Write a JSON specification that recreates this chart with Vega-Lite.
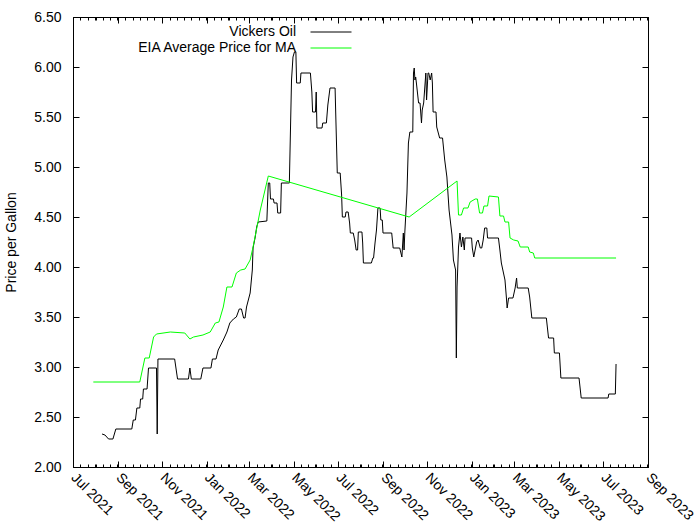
{
  "$schema": "https://vega.github.io/schema/vega-lite/v6.json",
  "autosize": {"type": "none"},
  "width": 575,
  "height": 450,
  "padding": {"left": 73, "top": 17, "right": 52, "bottom": 58},
  "background": "white",
  "config": {
    "font": "Liberation Sans",
    "view": {"stroke": null},
    "axis": {"grid": false, "labelFontSize": 14, "labelColor": "#000", "tickColor": "#000", "domainColor": "#000", "titleFontSize": 14, "titleFontWeight": "normal", "titleColor": "#000", "labelFont": "Liberation Sans", "titleFont": "Liberation Sans"},
    "legend": {"labelFont": "Liberation Sans", "orient": "none", "direction": "vertical", "title": null, "symbolType": "stroke", "symbolSize": 1681, "symbolStrokeWidth": 1, "labelAlign": "right", "labelOffset": -56, "labelFontSize": 14, "labelColor": "#000", "padding": 0}
  },
  "data": {"values": [
    {"series": "Vickers Oil", "date": "2021-08-10", "price": 2.33},
    {"series": "Vickers Oil", "date": "2021-08-14", "price": 2.32},
    {"series": "Vickers Oil", "date": "2021-08-19", "price": 2.28},
    {"series": "Vickers Oil", "date": "2021-08-25", "price": 2.28},
    {"series": "Vickers Oil", "date": "2021-08-29", "price": 2.38},
    {"series": "Vickers Oil", "date": "2021-09-20", "price": 2.38},
    {"series": "Vickers Oil", "date": "2021-09-22", "price": 2.47},
    {"series": "Vickers Oil", "date": "2021-09-25", "price": 2.47},
    {"series": "Vickers Oil", "date": "2021-09-27", "price": 2.59},
    {"series": "Vickers Oil", "date": "2021-10-01", "price": 2.59},
    {"series": "Vickers Oil", "date": "2021-10-02", "price": 2.68},
    {"series": "Vickers Oil", "date": "2021-10-05", "price": 2.68},
    {"series": "Vickers Oil", "date": "2021-10-06", "price": 2.78},
    {"series": "Vickers Oil", "date": "2021-10-11", "price": 2.78},
    {"series": "Vickers Oil", "date": "2021-10-13", "price": 2.99},
    {"series": "Vickers Oil", "date": "2021-10-24", "price": 2.99},
    {"series": "Vickers Oil", "date": "2021-10-25", "price": 2.33},
    {"series": "Vickers Oil", "date": "2021-10-26", "price": 3.08},
    {"series": "Vickers Oil", "date": "2021-11-18", "price": 3.08},
    {"series": "Vickers Oil", "date": "2021-11-22", "price": 2.88},
    {"series": "Vickers Oil", "date": "2021-12-07", "price": 2.88},
    {"series": "Vickers Oil", "date": "2021-12-09", "price": 2.99},
    {"series": "Vickers Oil", "date": "2021-12-11", "price": 2.88},
    {"series": "Vickers Oil", "date": "2021-12-24", "price": 2.88},
    {"series": "Vickers Oil", "date": "2021-12-27", "price": 2.99},
    {"series": "Vickers Oil", "date": "2022-01-07", "price": 2.99},
    {"series": "Vickers Oil", "date": "2022-01-09", "price": 3.08},
    {"series": "Vickers Oil", "date": "2022-01-14", "price": 3.08},
    {"series": "Vickers Oil", "date": "2022-01-17", "price": 3.17},
    {"series": "Vickers Oil", "date": "2022-01-24", "price": 3.27},
    {"series": "Vickers Oil", "date": "2022-01-29", "price": 3.35},
    {"series": "Vickers Oil", "date": "2022-02-02", "price": 3.44},
    {"series": "Vickers Oil", "date": "2022-02-07", "price": 3.48},
    {"series": "Vickers Oil", "date": "2022-02-11", "price": 3.50},
    {"series": "Vickers Oil", "date": "2022-02-15", "price": 3.58},
    {"series": "Vickers Oil", "date": "2022-02-18", "price": 3.58},
    {"series": "Vickers Oil", "date": "2022-02-21", "price": 3.49},
    {"series": "Vickers Oil", "date": "2022-02-23", "price": 3.49},
    {"series": "Vickers Oil", "date": "2022-02-25", "price": 3.60},
    {"series": "Vickers Oil", "date": "2022-03-02", "price": 3.74},
    {"series": "Vickers Oil", "date": "2022-03-05", "price": 3.97},
    {"series": "Vickers Oil", "date": "2022-03-06", "price": 4.19},
    {"series": "Vickers Oil", "date": "2022-03-09", "price": 4.30},
    {"series": "Vickers Oil", "date": "2022-03-11", "price": 4.40},
    {"series": "Vickers Oil", "date": "2022-03-13", "price": 4.45},
    {"series": "Vickers Oil", "date": "2022-03-25", "price": 4.46},
    {"series": "Vickers Oil", "date": "2022-03-27", "price": 4.84},
    {"series": "Vickers Oil", "date": "2022-03-29", "price": 4.84},
    {"series": "Vickers Oil", "date": "2022-03-30", "price": 4.68},
    {"series": "Vickers Oil", "date": "2022-04-03", "price": 4.68},
    {"series": "Vickers Oil", "date": "2022-04-04", "price": 4.64},
    {"series": "Vickers Oil", "date": "2022-04-08", "price": 4.64},
    {"series": "Vickers Oil", "date": "2022-04-09", "price": 4.54},
    {"series": "Vickers Oil", "date": "2022-04-13", "price": 4.54},
    {"series": "Vickers Oil", "date": "2022-04-14", "price": 4.84},
    {"series": "Vickers Oil", "date": "2022-04-25", "price": 4.84},
    {"series": "Vickers Oil", "date": "2022-04-28", "price": 5.87},
    {"series": "Vickers Oil", "date": "2022-04-30", "price": 6.10},
    {"series": "Vickers Oil", "date": "2022-05-02", "price": 6.15},
    {"series": "Vickers Oil", "date": "2022-05-04", "price": 6.15},
    {"series": "Vickers Oil", "date": "2022-05-05", "price": 5.84},
    {"series": "Vickers Oil", "date": "2022-05-10", "price": 5.84},
    {"series": "Vickers Oil", "date": "2022-05-11", "price": 5.94},
    {"series": "Vickers Oil", "date": "2022-05-24", "price": 5.94},
    {"series": "Vickers Oil", "date": "2022-05-26", "price": 5.75},
    {"series": "Vickers Oil", "date": "2022-05-27", "price": 5.55},
    {"series": "Vickers Oil", "date": "2022-05-31", "price": 5.55},
    {"series": "Vickers Oil", "date": "2022-06-01", "price": 5.75},
    {"series": "Vickers Oil", "date": "2022-06-02", "price": 5.39},
    {"series": "Vickers Oil", "date": "2022-06-09", "price": 5.39},
    {"series": "Vickers Oil", "date": "2022-06-10", "price": 5.44},
    {"series": "Vickers Oil", "date": "2022-06-15", "price": 5.44},
    {"series": "Vickers Oil", "date": "2022-06-17", "price": 5.62},
    {"series": "Vickers Oil", "date": "2022-06-20", "price": 5.79},
    {"series": "Vickers Oil", "date": "2022-06-27", "price": 5.79},
    {"series": "Vickers Oil", "date": "2022-06-28", "price": 5.50},
    {"series": "Vickers Oil", "date": "2022-06-30", "price": 4.94},
    {"series": "Vickers Oil", "date": "2022-07-04", "price": 4.94},
    {"series": "Vickers Oil", "date": "2022-07-06", "price": 4.72},
    {"series": "Vickers Oil", "date": "2022-07-07", "price": 4.50},
    {"series": "Vickers Oil", "date": "2022-07-11", "price": 4.50},
    {"series": "Vickers Oil", "date": "2022-07-12", "price": 4.55},
    {"series": "Vickers Oil", "date": "2022-07-15", "price": 4.55},
    {"series": "Vickers Oil", "date": "2022-07-17", "price": 4.44},
    {"series": "Vickers Oil", "date": "2022-07-18", "price": 4.34},
    {"series": "Vickers Oil", "date": "2022-07-22", "price": 4.34},
    {"series": "Vickers Oil", "date": "2022-07-24", "price": 4.27},
    {"series": "Vickers Oil", "date": "2022-07-26", "price": 4.17},
    {"series": "Vickers Oil", "date": "2022-07-28", "price": 4.17},
    {"series": "Vickers Oil", "date": "2022-07-29", "price": 4.35},
    {"series": "Vickers Oil", "date": "2022-08-03", "price": 4.35},
    {"series": "Vickers Oil", "date": "2022-08-04", "price": 4.24},
    {"series": "Vickers Oil", "date": "2022-08-05", "price": 4.04},
    {"series": "Vickers Oil", "date": "2022-08-16", "price": 4.04},
    {"series": "Vickers Oil", "date": "2022-08-18", "price": 4.09},
    {"series": "Vickers Oil", "date": "2022-08-19", "price": 4.09},
    {"series": "Vickers Oil", "date": "2022-08-21", "price": 4.24},
    {"series": "Vickers Oil", "date": "2022-08-23", "price": 4.37},
    {"series": "Vickers Oil", "date": "2022-08-25", "price": 4.59},
    {"series": "Vickers Oil", "date": "2022-08-28", "price": 4.59},
    {"series": "Vickers Oil", "date": "2022-08-29", "price": 4.47},
    {"series": "Vickers Oil", "date": "2022-08-31", "price": 4.47},
    {"series": "Vickers Oil", "date": "2022-09-01", "price": 4.34},
    {"series": "Vickers Oil", "date": "2022-09-13", "price": 4.34},
    {"series": "Vickers Oil", "date": "2022-09-15", "price": 4.19},
    {"series": "Vickers Oil", "date": "2022-09-24", "price": 4.19},
    {"series": "Vickers Oil", "date": "2022-09-27", "price": 4.10},
    {"series": "Vickers Oil", "date": "2022-09-29", "price": 4.34},
    {"series": "Vickers Oil", "date": "2022-09-30", "price": 4.17},
    {"series": "Vickers Oil", "date": "2022-10-01", "price": 4.34},
    {"series": "Vickers Oil", "date": "2022-10-04", "price": 4.74},
    {"series": "Vickers Oil", "date": "2022-10-06", "price": 5.24},
    {"series": "Vickers Oil", "date": "2022-10-08", "price": 5.35},
    {"series": "Vickers Oil", "date": "2022-10-12", "price": 5.35},
    {"series": "Vickers Oil", "date": "2022-10-13", "price": 5.94},
    {"series": "Vickers Oil", "date": "2022-10-14", "price": 5.99},
    {"series": "Vickers Oil", "date": "2022-10-15", "price": 5.87},
    {"series": "Vickers Oil", "date": "2022-10-16", "price": 5.90},
    {"series": "Vickers Oil", "date": "2022-10-17", "price": 5.84},
    {"series": "Vickers Oil", "date": "2022-10-20", "price": 5.64},
    {"series": "Vickers Oil", "date": "2022-10-22", "price": 5.64},
    {"series": "Vickers Oil", "date": "2022-10-24", "price": 5.44},
    {"series": "Vickers Oil", "date": "2022-10-25", "price": 5.57},
    {"series": "Vickers Oil", "date": "2022-10-27", "price": 5.64},
    {"series": "Vickers Oil", "date": "2022-10-30", "price": 5.94},
    {"series": "Vickers Oil", "date": "2022-10-31", "price": 5.67},
    {"series": "Vickers Oil", "date": "2022-11-02", "price": 5.94},
    {"series": "Vickers Oil", "date": "2022-11-03", "price": 5.94},
    {"series": "Vickers Oil", "date": "2022-11-05", "price": 5.87},
    {"series": "Vickers Oil", "date": "2022-11-07", "price": 5.94},
    {"series": "Vickers Oil", "date": "2022-11-08", "price": 5.84},
    {"series": "Vickers Oil", "date": "2022-11-09", "price": 5.55},
    {"series": "Vickers Oil", "date": "2022-11-13", "price": 5.55},
    {"series": "Vickers Oil", "date": "2022-11-14", "price": 5.40},
    {"series": "Vickers Oil", "date": "2022-11-18", "price": 5.29},
    {"series": "Vickers Oil", "date": "2022-11-22", "price": 5.29},
    {"series": "Vickers Oil", "date": "2022-11-25", "price": 5.07},
    {"series": "Vickers Oil", "date": "2022-11-28", "price": 4.90},
    {"series": "Vickers Oil", "date": "2022-12-01", "price": 4.57},
    {"series": "Vickers Oil", "date": "2022-12-05", "price": 4.32},
    {"series": "Vickers Oil", "date": "2022-12-07", "price": 4.07},
    {"series": "Vickers Oil", "date": "2022-12-10", "price": 3.97},
    {"series": "Vickers Oil", "date": "2022-12-11", "price": 3.09},
    {"series": "Vickers Oil", "date": "2022-12-12", "price": 3.80},
    {"series": "Vickers Oil", "date": "2022-12-14", "price": 4.20},
    {"series": "Vickers Oil", "date": "2022-12-16", "price": 4.34},
    {"series": "Vickers Oil", "date": "2022-12-18", "price": 4.20},
    {"series": "Vickers Oil", "date": "2022-12-20", "price": 4.30},
    {"series": "Vickers Oil", "date": "2022-12-22", "price": 4.17},
    {"series": "Vickers Oil", "date": "2022-12-23", "price": 4.29},
    {"series": "Vickers Oil", "date": "2023-01-01", "price": 4.29},
    {"series": "Vickers Oil", "date": "2023-01-02", "price": 4.19},
    {"series": "Vickers Oil", "date": "2023-01-04", "price": 4.10},
    {"series": "Vickers Oil", "date": "2023-01-08", "price": 4.25},
    {"series": "Vickers Oil", "date": "2023-01-10", "price": 4.27},
    {"series": "Vickers Oil", "date": "2023-01-13", "price": 4.19},
    {"series": "Vickers Oil", "date": "2023-01-15", "price": 4.19},
    {"series": "Vickers Oil", "date": "2023-01-17", "price": 4.27},
    {"series": "Vickers Oil", "date": "2023-01-19", "price": 4.39},
    {"series": "Vickers Oil", "date": "2023-01-22", "price": 4.39},
    {"series": "Vickers Oil", "date": "2023-01-23", "price": 4.29},
    {"series": "Vickers Oil", "date": "2023-02-07", "price": 4.29},
    {"series": "Vickers Oil", "date": "2023-02-09", "price": 4.17},
    {"series": "Vickers Oil", "date": "2023-02-11", "price": 4.04},
    {"series": "Vickers Oil", "date": "2023-02-16", "price": 3.87},
    {"series": "Vickers Oil", "date": "2023-02-18", "price": 3.69},
    {"series": "Vickers Oil", "date": "2023-02-19", "price": 3.59},
    {"series": "Vickers Oil", "date": "2023-02-21", "price": 3.69},
    {"series": "Vickers Oil", "date": "2023-02-27", "price": 3.69},
    {"series": "Vickers Oil", "date": "2023-03-02", "price": 3.79},
    {"series": "Vickers Oil", "date": "2023-03-04", "price": 3.89},
    {"series": "Vickers Oil", "date": "2023-03-05", "price": 3.79},
    {"series": "Vickers Oil", "date": "2023-03-20", "price": 3.79},
    {"series": "Vickers Oil", "date": "2023-03-22", "price": 3.70},
    {"series": "Vickers Oil", "date": "2023-03-25", "price": 3.49},
    {"series": "Vickers Oil", "date": "2023-04-14", "price": 3.49},
    {"series": "Vickers Oil", "date": "2023-04-17", "price": 3.29},
    {"series": "Vickers Oil", "date": "2023-04-24", "price": 3.29},
    {"series": "Vickers Oil", "date": "2023-04-25", "price": 3.14},
    {"series": "Vickers Oil", "date": "2023-05-02", "price": 3.14},
    {"series": "Vickers Oil", "date": "2023-05-04", "price": 2.89},
    {"series": "Vickers Oil", "date": "2023-05-29", "price": 2.89},
    {"series": "Vickers Oil", "date": "2023-06-01", "price": 2.69},
    {"series": "Vickers Oil", "date": "2023-07-08", "price": 2.69},
    {"series": "Vickers Oil", "date": "2023-07-09", "price": 2.73},
    {"series": "Vickers Oil", "date": "2023-07-18", "price": 2.73},
    {"series": "Vickers Oil", "date": "2023-07-19", "price": 3.03},
    {"series": "EIA Average Price for MA", "date": "2021-07-29", "price": 2.85},
    {"series": "EIA Average Price for MA", "date": "2021-10-01", "price": 2.85},
    {"series": "EIA Average Price for MA", "date": "2021-10-08", "price": 3.09},
    {"series": "EIA Average Price for MA", "date": "2021-10-14", "price": 3.09},
    {"series": "EIA Average Price for MA", "date": "2021-10-20", "price": 3.30},
    {"series": "EIA Average Price for MA", "date": "2021-10-24", "price": 3.33},
    {"series": "EIA Average Price for MA", "date": "2021-11-12", "price": 3.35},
    {"series": "EIA Average Price for MA", "date": "2021-12-02", "price": 3.34},
    {"series": "EIA Average Price for MA", "date": "2021-12-09", "price": 3.28},
    {"series": "EIA Average Price for MA", "date": "2021-12-14", "price": 3.30},
    {"series": "EIA Average Price for MA", "date": "2021-12-27", "price": 3.32},
    {"series": "EIA Average Price for MA", "date": "2022-01-06", "price": 3.35},
    {"series": "EIA Average Price for MA", "date": "2022-01-13", "price": 3.44},
    {"series": "EIA Average Price for MA", "date": "2022-01-18", "price": 3.45},
    {"series": "EIA Average Price for MA", "date": "2022-01-24", "price": 3.60},
    {"series": "EIA Average Price for MA", "date": "2022-01-29", "price": 3.80},
    {"series": "EIA Average Price for MA", "date": "2022-02-05", "price": 3.80},
    {"series": "EIA Average Price for MA", "date": "2022-02-11", "price": 3.94},
    {"series": "EIA Average Price for MA", "date": "2022-02-17", "price": 3.97},
    {"series": "EIA Average Price for MA", "date": "2022-02-23", "price": 3.98},
    {"series": "EIA Average Price for MA", "date": "2022-03-02", "price": 4.07},
    {"series": "EIA Average Price for MA", "date": "2022-03-06", "price": 4.20},
    {"series": "EIA Average Price for MA", "date": "2022-03-16", "price": 4.57},
    {"series": "EIA Average Price for MA", "date": "2022-03-27", "price": 4.91},
    {"series": "EIA Average Price for MA", "date": "2022-10-07", "price": 4.50},
    {"series": "EIA Average Price for MA", "date": "2022-12-12", "price": 4.86},
    {"series": "EIA Average Price for MA", "date": "2022-12-14", "price": 4.52},
    {"series": "EIA Average Price for MA", "date": "2022-12-18", "price": 4.52},
    {"series": "EIA Average Price for MA", "date": "2022-12-21", "price": 4.59},
    {"series": "EIA Average Price for MA", "date": "2022-12-27", "price": 4.59},
    {"series": "EIA Average Price for MA", "date": "2022-12-30", "price": 4.65},
    {"series": "EIA Average Price for MA", "date": "2023-01-06", "price": 4.68},
    {"series": "EIA Average Price for MA", "date": "2023-01-09", "price": 4.68},
    {"series": "EIA Average Price for MA", "date": "2023-01-12", "price": 4.54},
    {"series": "EIA Average Price for MA", "date": "2023-01-16", "price": 4.54},
    {"series": "EIA Average Price for MA", "date": "2023-01-18", "price": 4.61},
    {"series": "EIA Average Price for MA", "date": "2023-01-23", "price": 4.61},
    {"series": "EIA Average Price for MA", "date": "2023-01-25", "price": 4.71},
    {"series": "EIA Average Price for MA", "date": "2023-02-07", "price": 4.70},
    {"series": "EIA Average Price for MA", "date": "2023-02-09", "price": 4.51},
    {"series": "EIA Average Price for MA", "date": "2023-02-14", "price": 4.51},
    {"series": "EIA Average Price for MA", "date": "2023-02-16", "price": 4.45},
    {"series": "EIA Average Price for MA", "date": "2023-02-21", "price": 4.45},
    {"series": "EIA Average Price for MA", "date": "2023-02-23", "price": 4.29},
    {"series": "EIA Average Price for MA", "date": "2023-02-28", "price": 4.27},
    {"series": "EIA Average Price for MA", "date": "2023-03-06", "price": 4.26},
    {"series": "EIA Average Price for MA", "date": "2023-03-09", "price": 4.20},
    {"series": "EIA Average Price for MA", "date": "2023-03-20", "price": 4.20},
    {"series": "EIA Average Price for MA", "date": "2023-03-22", "price": 4.15},
    {"series": "EIA Average Price for MA", "date": "2023-03-27", "price": 4.14},
    {"series": "EIA Average Price for MA", "date": "2023-03-29", "price": 4.09},
    {"series": "EIA Average Price for MA", "date": "2023-07-19", "price": 4.09}
  ]},
  "resolve": {"axis": {"x": "independent", "y": "independent"}, "scale": {"color": "independent"}},
  "layer": [
    {
      "transform": [{"filter": {"field": "series", "equal": "Vickers Oil"}}],
      "mark": {"type": "line", "strokeWidth": 1, "interpolate": "linear"},
      "encoding": {
        "x": {"field": "date", "type": "temporal",
          "scale": {"domain": [{"year": 2021, "month": 7, "date": 1}, {"year": 2023, "month": 9, "date": 1}]},
          "axis": {"orient": "bottom", "title": null, "format": "%b %Y", "tickCount": {"interval": "month", "step": 2}, "labelAngle": 45, "labelAlign": "left", "labelBaseline": "alphabetic", "tickSize": -6, "labelPadding": 17, "labelOffset": -3, "labelOverlap": false, "labelFlush": false}},
        "y": {"field": "price", "type": "quantitative",
          "scale": {"domain": [2, 6.5], "nice": false, "zero": false},
          "axis": {"orient": "left", "title": "Price per Gallon", "format": ".2f", "values": [2, 2.5, 3, 3.5, 4, 4.5, 5, 5.5, 6, 6.5], "tickSize": -6, "labelPadding": 18, "titlePadding": 15, "labelOverlap": false, "labelFlush": false}},
        "color": {"field": "series", "type": "nominal",
          "scale": {"domain": ["Vickers Oil"], "range": ["#000000"]},
          "legend": {"legendX": 237, "legendY": -6}}
      }
    },
    {
      "transform": [{"filter": {"field": "series", "equal": "EIA Average Price for MA"}}],
      "mark": {"type": "line", "strokeWidth": 1, "interpolate": "linear"},
      "encoding": {
        "x": {"field": "date", "type": "temporal", "axis": null},
        "y": {"field": "price", "type": "quantitative", "axis": null},
        "color": {"field": "series", "type": "nominal",
          "scale": {"domain": ["EIA Average Price for MA"], "range": ["#00ff00"]},
          "legend": {"legendX": 237, "legendY": 10}}
      }
    },
    {
      "mark": {"type": "line", "opacity": 0},
      "encoding": {
        "x": {"field": "date", "type": "temporal", "axis": {"orient": "top", "title": null, "labels": false, "tickCount": {"interval": "month", "step": 2}, "tickSize": -6}},
        "y": {"field": "price", "type": "quantitative", "axis": {"orient": "right", "title": null, "labels": false, "values": [2, 2.5, 3, 3.5, 4, 4.5, 5, 5.5, 6, 6.5], "tickSize": -6}},
        "detail": {"field": "series"}
      }
    },
    {
      "mark": {"type": "line", "opacity": 0},
      "encoding": {
        "x": {"field": "date", "type": "temporal", "axis": {"orient": "bottom", "title": null, "labels": false, "domain": false, "tickCount": {"interval": "day", "step": 10}, "tickSize": -3}},
        "y": {"field": "price", "type": "quantitative", "axis": null},
        "detail": {"field": "series"}
      }
    },
    {
      "mark": {"type": "line", "opacity": 0},
      "encoding": {
        "x": {"field": "date", "type": "temporal", "axis": {"orient": "top", "title": null, "labels": false, "domain": false, "tickCount": {"interval": "day", "step": 10}, "tickSize": -3}},
        "y": {"field": "price", "type": "quantitative", "axis": null},
        "detail": {"field": "series"}
      }
    }
  ]
}
